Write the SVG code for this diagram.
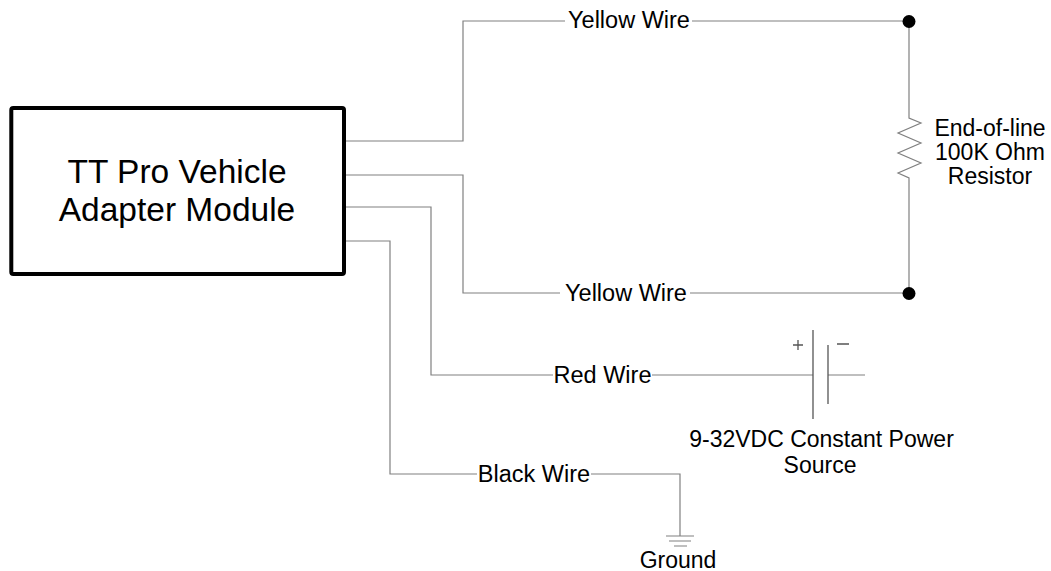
<svg xmlns="http://www.w3.org/2000/svg" width="1051" height="571" viewBox="0 0 1051 571">
<style>
.w{fill:none;stroke:#808080;stroke-width:1.2}
.p{fill:none;stroke:#555;stroke-width:1.3}
.t{font-family:"Liberation Sans",Arial,sans-serif;font-size:23px;fill:#000}
.l{font-size:23.5px}
.tc{text-anchor:middle}
</style>
<rect width="1051" height="571" fill="#fff"/>
<g id="module">
<rect x="11.3" y="108" width="332.7" height="166" rx="2" fill="#fff" stroke="#000" stroke-width="4"/>
<text class="t tc" x="177" y="183" style="font-size:33.5px">TT Pro Vehicle</text>
<text class="t tc" x="177" y="221" style="font-size:33.5px">Adapter Module</text>
</g>
<g id="connectors">
<polyline class="w" points="346,141 463,141 463,21 565,21"/>
<line class="w" x1="692" y1="21" x2="909" y2="21"/>
<polyline class="w" points="346,175 463,175 463,293 560,293"/>
<line class="w" x1="690" y1="293" x2="909" y2="293"/>
<polyline class="w" points="346,207 431,207 431,375 553,375"/>
<line class="w" x1="652" y1="375" x2="813" y2="375"/>
<line class="w" x1="828" y1="375" x2="865" y2="375"/>
<polyline class="w" points="346,241 390,241 390,474 477,474"/>
<polyline class="w" points="591,474 680,474 680,536"/>
<polyline class="w" points="909,21 909,118 921,123 898,133 921,143 898,153 921,163 898,173 909,178 909,293"/>
</g>
<g id="wire-labels">
<text class="t l tc" x="629" y="28">Yellow Wire</text>
<text class="t l tc" x="626" y="301">Yellow Wire</text>
<text class="t l tc" x="602.5" y="383">Red Wire</text>
<text class="t l tc" x="534" y="482">Black Wire</text>
</g>
<g id="resistor">
<circle cx="909" cy="21.5" r="6.5" fill="#000"/>
<circle cx="909" cy="293.5" r="6.5" fill="#000"/>
<text class="t tc" x="990" y="136">End-of-line</text>
<text class="t tc" x="990" y="160">100K Ohm</text>
<text class="t tc" x="990" y="184">Resistor</text>
</g>
<g id="power-source">
<line class="p" x1="813" y1="330" x2="813" y2="419"/>
<line class="p" x1="828" y1="345" x2="828" y2="404"/>
<path class="p" d="M793,345 H803 M798,340 V350 M837,344 H849"/>
<text class="t tc" x="821.5" y="447">9-32VDC Constant Power</text>
<text class="t tc" x="820" y="473">Source</text>
</g>
<g id="ground">
<path class="w" d="M666,536 H694 M669,541 H691 M674,546 H687"/>
<text class="t tc" x="678" y="568">Ground</text>
</g>
</svg>
